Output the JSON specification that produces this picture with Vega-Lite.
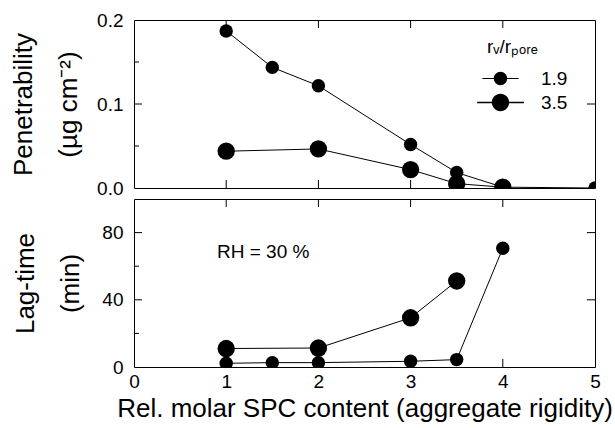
{
  "$schema": "https://vega.github.io/schema/vega-lite/v6.json",
  "padding": {"left": 10, "top": 10, "right": 0, "bottom": 0},
  "background": "white",
  "config": {
    "font": "Liberation Sans",
    "view": {"stroke": "black", "strokeWidth": 1},
    "axis": {
      "domain": false, "grid": false, "ticks": false,
      "labelColor": "black", "titleColor": "black", "labelFont": "Liberation Sans", "titleFont": "Liberation Sans",
      "labelFontSize": 19, "titleFontSize": 26, "titleFontWeight": "normal", "labelFlush": false, "labelOverlap": false
    }
  },
  "datasets": {
    "pen": [
      {"ratio": "1.9", "x": 1, "p": 0.187},
      {"ratio": "1.9", "x": 1.5, "p": 0.1436},
      {"ratio": "1.9", "x": 2, "p": 0.1217},
      {"ratio": "1.9", "x": 3, "p": 0.0518},
      {"ratio": "1.9", "x": 3.5, "p": 0.0184},
      {"ratio": "1.9", "x": 4, "p": 0.001},
      {"ratio": "1.9", "x": 5, "p": 0.0},
      {"ratio": "3.5", "x": 1, "p": 0.0438},
      {"ratio": "3.5", "x": 2, "p": 0.0465},
      {"ratio": "3.5", "x": 3, "p": 0.0219},
      {"ratio": "3.5", "x": 3.5, "p": 0.0052},
      {"ratio": "3.5", "x": 4, "p": 0.001}
    ],
    "lag": [
      {"ratio": "1.9", "x": 1, "t": 2.2},
      {"ratio": "1.9", "x": 1.5, "t": 2.6},
      {"ratio": "1.9", "x": 2, "t": 2.6},
      {"ratio": "1.9", "x": 3, "t": 3.4},
      {"ratio": "1.9", "x": 3.5, "t": 4.4},
      {"ratio": "1.9", "x": 4, "t": 70.7},
      {"ratio": "3.5", "x": 1, "t": 11},
      {"ratio": "3.5", "x": 2, "t": 11.3},
      {"ratio": "3.5", "x": 3, "t": 29.3},
      {"ratio": "3.5", "x": 3.5, "t": 51.2}
    ],
    "xticks": [{"v": 1}, {"v": 2}, {"v": 3}, {"v": 4}]
  },
  "spacing": 11,
  "bounds": "flush",
  "resolve": {"scale": {"size": "independent", "x": "independent", "y": "independent"}, "legend": {"size": "independent"}},
  "vconcat": [
    {
      "width": 461, "height": 168,
      "data": {"name": "pen"},
      "layer": [
        {
          "data": {"name": "xticks"},
          "mark": {"type": "rule", "color": "black", "strokeWidth": 1},
          "encoding": {
            "x": {"field": "v", "type": "quantitative", "axis": null},
            "y": {"datum": 0, "type": "quantitative", "axis": null},
            "y2": {"datum": 0.0095}
          }
        },
        {
          "data": {"name": "xticks"},
          "mark": {"type": "rule", "color": "black", "strokeWidth": 1},
          "encoding": {
            "x": {"field": "v", "type": "quantitative", "axis": null},
            "y": {"datum": 0.2, "type": "quantitative", "axis": null},
            "y2": {"datum": 0.1905}
          }
        },
        {
          "data": {"values": [{"v": 0.1}]},
          "mark": {"type": "rule", "color": "black", "strokeWidth": 1},
          "encoding": {
            "y": {"field": "v", "type": "quantitative", "axis": null},
            "x": {"datum": 0, "type": "quantitative", "axis": null},
            "x2": {"datum": 0.0868}
          }
        },
        {
          "data": {"values": [{"v": 0.1}]},
          "mark": {"type": "rule", "color": "black", "strokeWidth": 1},
          "encoding": {
            "y": {"field": "v", "type": "quantitative", "axis": null},
            "x": {"datum": 5, "type": "quantitative", "axis": null},
            "x2": {"datum": 4.913}
          }
        },
        {
          "data": {"values": [{"v": 0.05}, {"v": 0.15}]},
          "mark": {"type": "rule", "color": "black", "strokeWidth": 1},
          "encoding": {
            "y": {"field": "v", "type": "quantitative", "axis": null},
            "x": {"datum": 0, "type": "quantitative", "axis": null},
            "x2": {"datum": 0.054}
          }
        },
        {
          "mark": {"type": "line", "color": "black", "strokeWidth": 1, "clip": true},
          "encoding": {
            "x": {"field": "x", "type": "quantitative", "scale": {"domain": [0, 5], "nice": false},
                  "axis": {"orient": "bottom", "values": [1, 2, 3, 4], "labels": false, "title": null}},
            "y": {"field": "p", "type": "quantitative", "scale": {"domain": [0, 0.2], "nice": false},
                  "axis": {"orient": "left", "values": [0, 0.1, 0.2], "format": ".1f", "labelPadding": 11,
                           "title": ["Penetrability", "(µg cm⁻²)"], "titlePadding": 15, "titleLineHeight": 45}},
            "detail": {"field": "ratio"}
          }
        },
        {
          "mark": {"type": "point", "filled": true, "color": "black", "opacity": 1, "clip": true},
          "encoding": {
            "x": {"field": "x", "type": "quantitative", "axis": null},
            "y": {"field": "p", "type": "quantitative", "axis": null},
            "size": {"field": "ratio", "type": "ordinal", "scale": {"domain": ["1.9", "3.5"], "range": [180, 300]},
                     "legend": {"orient": "none", "legendX": 353, "legendY": 18, "title": "  rᵥ/rₚₒᵣₑ",
                                "titleFontSize": 19, "titleFontWeight": "normal", "titleFont": "Liberation Sans", "titlePadding": 12,
                                "labelFontSize": 19, "labelFont": "Liberation Sans", "labelOffset": 31, "labelColor": "black", "titleColor": "black",
                                "symbolType": "M-2.7,-0.08H2.7V0.08H-2.7Z M-1,0A1,1 0 1,1 1,0A1,1 0 1,1 -1,0Z",
                                "symbolFillColor": "black", "symbolStrokeWidth": 0, "symbolOffset": 4, "rowPadding": 4, "padding": 0}}
          }
        }
      ],
      "resolve": {"axis": {"x": "independent", "y": "independent"}}
    },
    {
      "width": 461, "height": 168,
      "data": {"name": "lag"},
      "layer": [
        {
          "data": {"name": "xticks"},
          "mark": {"type": "rule", "color": "black", "strokeWidth": 1},
          "encoding": {
            "x": {"field": "v", "type": "quantitative", "axis": null},
            "y": {"datum": 0, "type": "quantitative", "axis": null},
            "y2": {"datum": 4.76}
          }
        },
        {
          "data": {"name": "xticks"},
          "mark": {"type": "rule", "color": "black", "strokeWidth": 1},
          "encoding": {
            "x": {"field": "v", "type": "quantitative", "axis": null},
            "y": {"datum": 100, "type": "quantitative", "axis": null},
            "y2": {"datum": 95.24}
          }
        },
        {
          "data": {"values": [{"v": 40}, {"v": 80}]},
          "mark": {"type": "rule", "color": "black", "strokeWidth": 1},
          "encoding": {
            "y": {"field": "v", "type": "quantitative", "axis": null},
            "x": {"datum": 0, "type": "quantitative", "axis": null},
            "x2": {"datum": 0.0868}
          }
        },
        {
          "data": {"values": [{"v": 40}, {"v": 80}]},
          "mark": {"type": "rule", "color": "black", "strokeWidth": 1},
          "encoding": {
            "y": {"field": "v", "type": "quantitative", "axis": null},
            "x": {"datum": 5, "type": "quantitative", "axis": null},
            "x2": {"datum": 4.913}
          }
        },
        {
          "data": {"values": [{"v": 20}, {"v": 60}]},
          "mark": {"type": "rule", "color": "black", "strokeWidth": 1},
          "encoding": {
            "y": {"field": "v", "type": "quantitative", "axis": null},
            "x": {"datum": 0, "type": "quantitative", "axis": null},
            "x2": {"datum": 0.054}
          }
        },
        {
          "mark": {"type": "line", "color": "black", "strokeWidth": 1, "clip": true},
          "encoding": {
            "x": {"field": "x", "type": "quantitative", "scale": {"domain": [0, 5], "nice": false},
                  "axis": {"orient": "bottom", "values": [0, 1, 2, 3, 4, 5], "labelPadding": 5,
                           "title": "Rel. molar SPC content (aggregate rigidity)", "titleFontSize": 26, "titlePadding": 4}},
            "y": {"field": "t", "type": "quantitative", "scale": {"domain": [0, 100], "nice": false},
                  "axis": {"orient": "left", "values": [0, 40, 80], "labelPadding": 11,
                           "title": ["Lag-time", "(min)"], "titlePadding": 18, "titleLineHeight": 45}},
            "detail": {"field": "ratio"}
          }
        },
        {
          "mark": {"type": "point", "filled": true, "color": "black", "opacity": 1, "clip": true},
          "encoding": {
            "x": {"field": "x", "type": "quantitative", "axis": null},
            "y": {"field": "t", "type": "quantitative", "axis": null},
            "size": {"field": "ratio", "type": "ordinal", "scale": {"domain": ["1.9", "3.5"], "range": [180, 300]}, "legend": null}
          }
        },
        {
          "data": {"values": [{"label": "RH = 30 %"}]},
          "mark": {"type": "text", "fontSize": 19, "font": "Liberation Sans", "fontWeight": "normal", "align": "left", "baseline": "middle", "fill": "black"},
          "encoding": {
            "text": {"field": "label"},
            "x": {"datum": 0.9, "type": "quantitative", "axis": null},
            "y": {"datum": 68.7, "type": "quantitative", "axis": null}
          }
        }
      ],
      "resolve": {"axis": {"x": "independent", "y": "independent"}}
    }
  ]
}
